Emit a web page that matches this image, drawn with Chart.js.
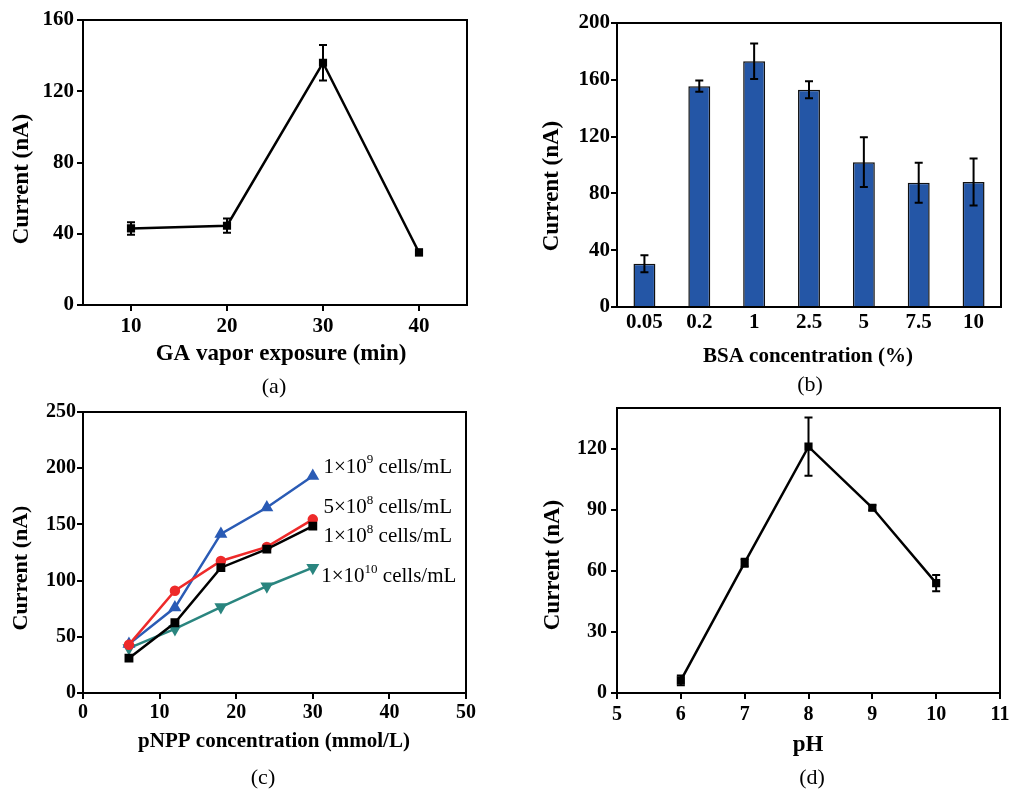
<!DOCTYPE html>
<html>
<head>
<meta charset="utf-8">
<script src="https://cdn.jsdelivr.net/npm/chart.js@4.4.1/dist/chart.umd.min.js"></script>
<style>
  body { margin: 0; background: #fff; }
  #wrap { position: relative; width: 1011px; height: 791px; }
  canvas { position: absolute; }
</style>
</head>
<body>
<div id="wrap">
  <canvas id="chartA" width="505" height="400" style="left:0;top:0"></canvas>
  <canvas id="chartB" width="506" height="400" style="left:505px;top:0"></canvas>
  <canvas id="chartC" width="505" height="391" style="left:0;top:400px"></canvas>
  <canvas id="chartD" width="506" height="391" style="left:505px;top:400px"></canvas>
</div>
<script>
var serif = '"Liberation Serif", "Times New Roman", serif';

// (a) GA vapor exposure time
var gaTime = [10, 20, 30, 40];
var gaCurrent = [43, 44.5, 136, 29.5];
var gaError = [3.5, 4, 10, 1.5];

// (b) BSA concentration
var bsaLabels = ['0.05', '0.2', '1', '2.5', '5', '7.5', '10'];
var bsaCurrent = [30.5, 155.5, 173, 153, 102, 87.5, 88];
var bsaError = [6, 4, 12.5, 6, 17.5, 14, 16.5];

// (c) pNPP concentration, one series per cell density
var pnppConc = [6, 12, 18, 24, 30];
var cells1e8 = [31, 62.5, 111.5, 128, 148.5];
var cells5e8 = [43, 91, 117.5, 130, 154.5];
var cells1e9 = [43.5, 76, 141.5, 165, 193];
var cells1e10 = [40, 57, 76.5, 95, 111.5];

// (d) pH
var phValues = [6, 7, 8, 9, 10];
var phCurrent = [6.2, 64, 121, 91, 54];
var phError = [2.4, 2, 14.3, 1.2, 4];

function xy(xs, ys) {
  return xs.map(function (x, i) { return { x: x, y: ys[i] }; });
}

// box around the plot area
var frame = {
  id: 'frame',
  afterDraw: function (chart) {
    var a = chart.chartArea, ctx = chart.ctx;
    ctx.save();
    ctx.strokeStyle = '#000';
    ctx.lineWidth = 2;
    ctx.strokeRect(a.left, a.top, a.right - a.left, a.bottom - a.top);
    ctx.restore();
  }
};

// vertical error bars from dataset.errors
var errorBars = {
  id: 'errorBars',
  afterDatasetsDraw: function (chart) {
    var ctx = chart.ctx, ys = chart.scales.y;
    chart.data.datasets.forEach(function (ds, di) {
      if (!ds.errors) return;
      var meta = chart.getDatasetMeta(di);
      ctx.save();
      ctx.strokeStyle = '#000';
      ctx.lineWidth = 2;
      meta.data.forEach(function (el, i) {
        var v = ds.data[i];
        if (typeof v === 'object') v = v.y;
        var top = ys.getPixelForValue(v + ds.errors[i]);
        var bot = ys.getPixelForValue(v - ds.errors[i]);
        ctx.beginPath();
        ctx.moveTo(el.x, top); ctx.lineTo(el.x, bot);
        ctx.moveTo(el.x - 4, top); ctx.lineTo(el.x + 4, top);
        ctx.moveTo(el.x - 4, bot); ctx.lineTo(el.x + 4, bot);
        ctx.stroke();
      });
      ctx.restore();
    });
  }
};

// axis titles and panel letters
var panelText = {
  id: 'panelText',
  afterDraw: function (chart, args, opts) {
    var ctx = chart.ctx;
    (opts.items || []).forEach(function (t) {
      ctx.save();
      ctx.font = t.font;
      ctx.fillStyle = '#000';
      ctx.textAlign = 'center';
      ctx.textBaseline = 'middle';
      ctx.translate(t.x, t.y);
      if (t.rotate) ctx.rotate(t.rotate);
      ctx.fillText(t.text, 0, 0);
      ctx.restore();
    });
  }
};

// series names with a superscript exponent, placed in data units
var seriesLabels = {
  id: 'seriesLabels',
  afterDraw: function (chart, args, opts) {
    if (!opts.items) return;
    var ctx = chart.ctx, xs = chart.scales.x, ys = chart.scales.y;
    opts.items.forEach(function (t) {
      var x = xs.getPixelForValue(t.x), y = ys.getPixelForValue(t.y);
      ctx.save();
      ctx.fillStyle = '#000';
      ctx.textBaseline = 'middle';
      ctx.textAlign = 'left';
      ctx.font = '21px ' + serif;
      ctx.fillText(t.parts[0], x, y);
      x += ctx.measureText(t.parts[0]).width;
      ctx.font = '13px ' + serif;
      ctx.fillText(t.parts[1], x, y - 7);
      x += ctx.measureText(t.parts[1]).width;
      ctx.font = '21px ' + serif;
      ctx.fillText(t.parts[2], x, y);
      ctx.restore();
    });
  }
};

function tickFont(size) {
  return { family: serif, size: size, weight: 'bold' };
}

// fixed axis box so the plot area lands where it should
function fitTo(prop, px) {
  return function (s) {
    s[prop] = px;
    s.paddingLeft = s.paddingRight = s.paddingTop = s.paddingBottom = 0;
  };
}

function linearAxis(min, max, step, size, pad, fit, only) {
  var ax = {
    type: 'linear', min: min, max: max,
    ticks: { stepSize: step, color: '#000', padding: pad, font: tickFont(size) },
    grid: { display: true, drawOnChartArea: false, color: '#000', lineWidth: 2, tickLength: 6 },
    border: { display: false },
    afterFit: fit
  };
  if (only) {
    ax.afterBuildTicks = function (s) {
      s.ticks = only.map(function (v) { return { value: v }; });
    };
  }
  return ax;
}

function titles(xt, yt, letter) {
  return { items: [xt, yt, letter] };
}

var common = {
  responsive: false,
  animation: false,
  events: []
};

// (a)
new Chart(document.getElementById('chartA'), {
  type: 'line',
  data: {
    datasets: [{
      data: xy(gaTime, gaCurrent),
      errors: gaError,
      borderColor: '#000', backgroundColor: '#000',
      borderWidth: 2.5, pointStyle: 'rect', pointRadius: 4
    }]
  },
  options: Object.assign({}, common, {
    layout: { padding: { top: 20, right: 38, left: 0, bottom: 0 } },
    scales: {
      x: linearAxis(5, 45, 10, 21, 3, fitTo('height', 95), gaTime),
      y: linearAxis(0, 160, 40, 21, 3, fitTo('width', 83))
    },
    plugins: {
      legend: { display: false }, tooltip: { enabled: false },
      panelText: titles(
        { text: 'GA vapor exposure (min)', x: 281, y: 354, font: 'bold 23px ' + serif },
        { text: 'Current (nA)', x: 22, y: 179, rotate: -Math.PI / 2, font: 'bold 23px ' + serif },
        { text: '(a)', x: 274, y: 387, font: '22px ' + serif })
    }
  }),
  plugins: [frame, errorBars, panelText]
});

// (b)
new Chart(document.getElementById('chartB'), {
  type: 'bar',
  data: {
    labels: bsaLabels,
    datasets: [{
      data: bsaCurrent,
      errors: bsaError,
      backgroundColor: '#2456a6', borderColor: '#111', borderWidth: 1.5,
      categoryPercentage: 1, barPercentage: 0.4
    }]
  },
  options: Object.assign({}, common, {
    layout: { padding: { top: 23, right: 10, left: 0, bottom: 0 } },
    scales: {
      x: {
        ticks: { color: '#000', padding: 3, font: tickFont(21) },
        grid: { display: false, drawTicks: false },
        border: { display: false },
        afterFit: fitTo('height', 93)
      },
      y: linearAxis(0, 200, 40, 21, 1, fitTo('width', 112))
    },
    plugins: {
      legend: { display: false }, tooltip: { enabled: false },
      panelText: titles(
        { text: 'BSA concentration (%)', x: 303, y: 357, font: 'bold 21px ' + serif },
        { text: 'Current (nA)', x: 47, y: 186, rotate: -Math.PI / 2, font: 'bold 23px ' + serif },
        { text: '(b)', x: 305, y: 385, font: '22px ' + serif })
    }
  }),
  plugins: [frame, errorBars, panelText]
});

// (c)
function cellSeries(values, color, style, radius, rotation) {
  return {
    data: xy(pnppConc, values),
    borderColor: color, backgroundColor: color,
    borderWidth: 2.5, pointStyle: style, pointRadius: radius, pointRotation: rotation || 0
  };
}

new Chart(document.getElementById('chartC'), {
  type: 'line',
  data: {
    datasets: [
      cellSeries(cells1e8, '#000000', 'rect', 4.5),
      cellSeries(cells5e8, '#ee2a2a', 'circle', 4),
      cellSeries(cells1e9, '#2a5bb5', 'triangle', 5),
      cellSeries(cells1e10, '#2a857f', 'triangle', 5, 180)
    ]
  },
  options: Object.assign({}, common, {
    layout: { padding: { top: 12, right: 39, left: 0, bottom: 0 } },
    scales: {
      x: linearAxis(0, 50, 10, 20, 2, fitTo('height', 98)),
      y: linearAxis(0, 250, 50, 20, 1, fitTo('width', 83))
    },
    plugins: {
      legend: { display: false }, tooltip: { enabled: false },
      panelText: titles(
        { text: 'pNPP concentration (mmol/L)', x: 274, y: 342, font: 'bold 21px ' + serif },
        { text: 'Current (nA)', x: 21, y: 168, rotate: -Math.PI / 2, font: 'bold 22px ' + serif },
        { text: '(c)', x: 263, y: 378, font: '22px ' + serif }),
      seriesLabels: {
        items: [
          { parts: ['1×10', '9', ' cells/mL'], x: 31.4, y: 201 },
          { parts: ['5×10', '8', ' cells/mL'], x: 31.4, y: 165 },
          { parts: ['1×10', '8', ' cells/mL'], x: 31.4, y: 139 },
          { parts: ['1×10', '10', ' cells/mL'], x: 31.1, y: 103.5 }
        ]
      }
    }
  }),
  plugins: [frame, panelText, seriesLabels]
});

// (d)
new Chart(document.getElementById('chartD'), {
  type: 'line',
  data: {
    datasets: [{
      data: xy(phValues, phCurrent),
      errors: phError,
      borderColor: '#000', backgroundColor: '#000',
      borderWidth: 2.5, pointStyle: 'rect', pointRadius: 4
    }]
  },
  options: Object.assign({}, common, {
    layout: { padding: { top: 8, right: 11, left: 0, bottom: 0 } },
    scales: {
      x: linearAxis(5, 11, 1, 20, 4, fitTo('height', 98)),
      y: linearAxis(0, 140, 30, 20, 4, fitTo('width', 112), [0, 30, 60, 90, 120])
    },
    plugins: {
      legend: { display: false }, tooltip: { enabled: false },
      panelText: titles(
        { text: 'pH', x: 303, y: 345, font: 'bold 23px ' + serif },
        { text: 'Current (nA)', x: 48, y: 165, rotate: -Math.PI / 2, font: 'bold 23px ' + serif },
        { text: '(d)', x: 307, y: 378, font: '22px ' + serif })
    }
  }),
  plugins: [frame, errorBars, panelText]
});
</script>
</body>
</html>
